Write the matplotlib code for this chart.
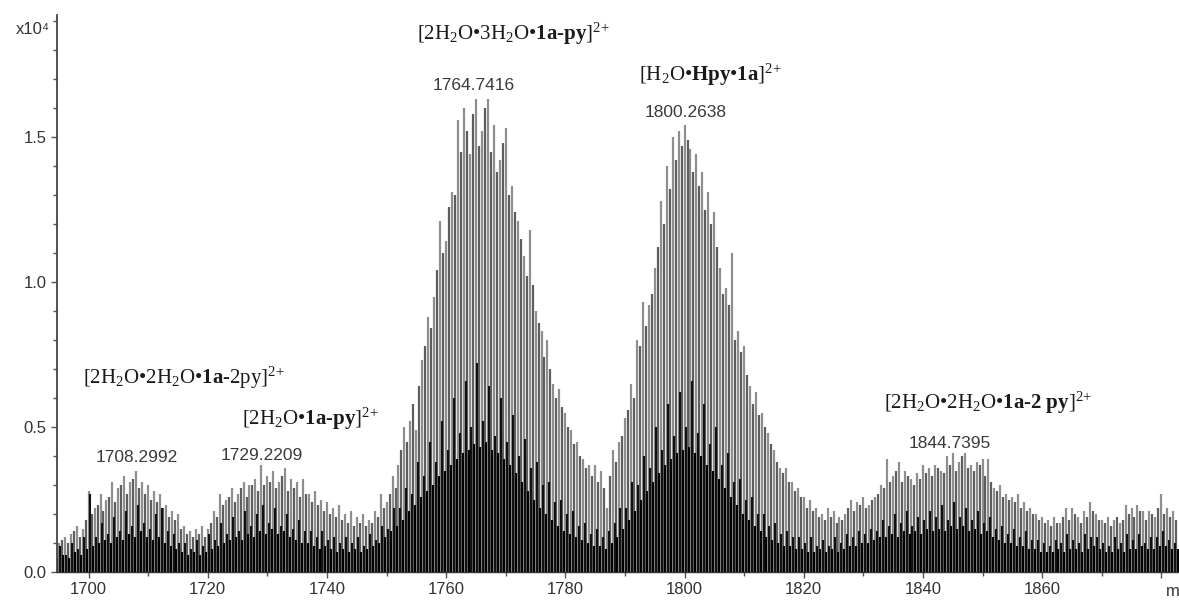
import numpy as np
import matplotlib
matplotlib.use("Agg")
from matplotlib import pyplot as plt
from matplotlib.ticker import MultipleLocator, FixedLocator

# intensities in units of 1e4 counts, one stick per m/z step
mz_first = 1694
mz_last = 1882

# tallest isotope sticks at integer m/z
main_heights = [
    .09, .10, .12, .13, .16, .15, .28, .22, .27, .25,
    .31, .29, .33, .31, .35, .31, .30, .28, .27, .23,
    .21, .20, .16, .14, .15, .16, .15, .21, .27, .25,
    .29, .27, .31, .30, .32, .37, .33, .35, .31, .36,
    .32, .31, .32, .27, .28, .25, .24, .22, .23, .20,
    .21, .19, .20, .18, .21, .27, .24, .33, .37, .50,
    .52, .49, .73, .88, .95, 1.21, 1.14, 1.31, 1.56, 1.60,
    1.44, 1.63, 1.52, 1.63, 1.54, 1.42, 1.53, 1.33, 1.21, 1.09,
    1.18, .90, .83, .80, .65, .63, .55, .49, .45, .39,
    .37, .37, .35, .22, .42, .45, .53, .65, .80, .93,
    .92, 1.05, 1.28, 1.40, 1.50, 1.52, 1.54, 1.46, 1.44, 1.38,
    1.31, 1.24, 1.05, .98, 1.10, .83, .78, .64, .62, .55,
    .48, .42, .36, .36, .31, .29, .26, .25, .22, .20,
    .22, .21, .19, .20, .25, .24, .26, .23, .26, .30,
    .39, .33, .38, .35, .32, .34, .37, .36, .37, .35,
    .40, .41, .38, .41, .37, .38, .39, .39, .29, .30,
    .27, .26, .27, .24, .22, .20, .19, .18, .19, .17,
    .22, .22, .19, .21, .24, .20, .18, .19, .18, .17,
    .23, .22, .23, .21, .21, .19, .27, .22, .21,
]

# isotope sticks at half-integer m/z
half_heights = [
    .09, .11, .10, .14, .12, .18, .20, .23, .21, .26,
    .24, .30, .27, .32, .29, .27, .25, .24, .22, .19,
    .18, .15, .13, .12, .13, .12, .17, .19, .23, .26,
    .24, .29, .26, .30, .28, .30, .31, .29, .33, .28,
    .29, .26, .27, .24, .23, .21, .20, .19, .18, .17,
    .16, .17, .16, .17, .19, .22, .27, .29, .42, .45,
    .58, .64, .78, .84, 1.04, 1.10, 1.26, 1.30, 1.45, 1.52,
    1.58, 1.47, 1.60, 1.45, 1.38, 1.48, 1.30, 1.24, 1.15, 1.02,
    .99, .86, .74, .70, .60, .57, .50, .44, .40, .36,
    .33, .31, .29, .33, .38, .47, .56, .60, .78, .85,
    .96, 1.12, 1.20, 1.32, 1.42, 1.47, 1.49, 1.38, 1.33, 1.25,
    1.20, 1.12, .96, .92, .80, .76, .68, .58, .54, .50,
    .44, .38, .34, .31, .28, .26, .22, .21, .19, .18,
    .19, .17, .18, .22, .21, .23, .22, .25, .27, .29,
    .31, .35, .31, .33, .30, .32, .34, .33, .36, .34,
    .37, .35, .40, .36, .35, .37, .33, .31, .28, .26,
    .25, .24, .22, .21, .20, .18, .17, .16, .17, .19,
    .18, .20, .17, .19, .21, .18, .17, .16, .19, .18,
    .20, .19, .21, .18, .20, .22, .20, .19, .18,
]

# dark overlapping sticks (m/z + 0.25)
core_heights = [
    .07, .09, .06, .10, .08, .12,
    .27, .12, .17, .13, .19, .14, .21, .16, .23, .17, .15, .20, .22, .14, .13, .10, .10, .08, .11, .09,
    .13, .11, .17, .13, .19, .14, .21, .16, .20, .23, .17, .22, .16, .20, .15, .18, .14, .14, .12, .14,
    .11, .12, .10, .12, .10, .12, .09, .13, .11, .16, .15, .22, .22, .29, .27, .38, .33, .45, .38, .52,
    .42, .60, .48, .66, .50, .72, .52, .64, .47, .60, .45, .54, .40, .46, .36, .38, .30, .31, .24, .25,
    .20, .21, .16, .17, .13, .15, .12, .14, .17, .22, .22, .31, .30, .40, .36, .50, .42, .58, .47, .62,
    .50, .66, .48, .58, .44, .50, .37, .41, .31, .32, .25, .26, .20, .20, .16, .17, .13, .14, .12, .12,
    .10, .12, .09, .11, .09, .12, .10, .13, .12, .14, .13, .15, .14, .18, .16, .20, .17, .21, .16, .19,
    .18, .21, .19, .23, .18, .24, .19, .22, .18, .21, .17, .19, .15, .16, .13, .15, .12, .14, .11, .11,
    .10, .09, .11, .10, .13, .11, .10, .13, .12, .12, .10, .09, .12, .10, .13, .11, .13, .10, .12, .12,
    .14, .11, .10,
]

# dark overlapping sticks (m/z + 0.75)
noise_heights = [
    .05, .06, .05, .07, .06, .08,
    .09, .10, .11, .10, .12, .11, .13, .12, .14, .12, .11, .12, .10, .09, .08, .07, .06, .07, .06, .07,
    .08, .09, .10, .11, .12, .11, .13, .12, .14, .13, .15, .13, .14, .12, .11, .10, .10, .09, .08, .09,
    .08, .07, .08, .07, .08, .07, .08, .09, .10, .12, .14, .16, .18, .21, .23, .26, .28, .30, .33, .35,
    .37, .39, .41, .42, .44, .43, .45, .42, .41, .39, .37, .34, .31, .28, .25, .22, .20, .18, .16, .14,
    .13, .12, .11, .10, .09, .09, .08, .10, .12, .15, .18, .21, .25, .28, .31, .34, .37, .39, .41, .42,
    .43, .41, .40, .37, .35, .32, .29, .26, .23, .20, .18, .16, .14, .12, .11, .10, .09, .09, .08, .08,
    .07, .07, .08, .07, .08, .07, .08, .09, .09, .10, .10, .11, .12, .12, .13, .12, .14, .13, .14, .13,
    .15, .14, .15, .14, .16, .15, .16, .14, .15, .13, .14, .12, .11, .10, .10, .09, .09, .08, .08, .07,
    .07, .07, .08, .07, .08, .08, .07, .08, .09, .08, .07, .07, .08, .07, .08, .08, .09, .08, .08, .09,
    .09, .08, .08,
]

# baseline noise level, every 4 m/z
baseline_heights = [
    .05, .05, .06, .06, .06, .05, .05, .06, .06, .06,
    .06, .05, .05, .05, .06, .08, .10, .12, .12, .11,
    .09, .07, .06, .05, .07, .09, .11, .11, .09, .07,
    .06, .05, .05, .05, .05, .06, .06, .06, .06, .06,
    .05, .05, .05, .05, .05, .05, .05, .05,
]

x_tick_values = [1700, 1720, 1740, 1760, 1780, 1800, 1820, 1840, 1860, 1880]
x_tick_labels = ["1700", "1720", "1740", "1760", "1780", "1800", "1820", "1840", "1860", ""]

peak_labels = ["1708.2992", "1729.2209", "1764.7416", "1800.2638", "1844.7395"]
ion_labels = [
    r"$\mathrm{[2H_2O}\mathrm{•}\mathrm{3H_2O}\mathrm{•}\mathbf{1a‐py}\mathrm{]^{2{+}}}$",
    r"$\mathrm{[H_2O}\mathrm{•}\mathbf{Hpy}\mathrm{•}\mathbf{1a}\mathrm{]^{2{+}}}$",
    r"$\mathrm{[2H_2O}\mathrm{•}\mathrm{2H_2O}\mathrm{•}\mathbf{1a}\mathrm{‐2py]^{2{+}}}$",
    r"$\mathrm{[2H_2O}\mathrm{•}\mathbf{1a‐py}\mathrm{]^{2{+}}}$",
    r"$\mathrm{[2H_2O}\mathrm{•}\mathrm{2H_2O}\mathrm{•}\mathbf{1a‐2\ py}\mathrm{]^{2{+}}}$",
]

plt.rcParams["mathtext.fontset"] = "custom"
plt.rcParams["mathtext.rm"] = "Liberation Serif"
plt.rcParams["mathtext.bf"] = "Liberation Serif:bold"
plt.rcParams["mathtext.it"] = "Liberation Serif:italic"

W, H = 1179, 601
fig = plt.figure(figsize=(W / 100, H / 100), dpi=100)
ax = fig.add_axes([57 / W, 29 / H, (W - 57) / W, 557 / H])

mz_int = np.arange(mz_first, mz_last + 1)
ax.vlines(mz_int, 0, main_heights, colors="#8e8e8e", lw=1.6)
ax.vlines(mz_int + 0.5, 0, half_heights, colors="#5e5e5e", lw=1.6)
ax.vlines(mz_int + 0.25, 0, core_heights, colors="#111111", lw=1.5)
ax.vlines(mz_int + 0.75, 0, noise_heights, colors="#000000", lw=1.5)
ax.fill_between(np.arange(mz_first, mz_last + 1, 4), 0, baseline_heights,
                step="mid", color="black", lw=0)

ax.set_xlim(1694.7, 1882.97)
ax.set_ylim(0, 1.921)

for s in ["top", "right"]:
    ax.spines[s].set_visible(False)
ax.spines["left"].set_color("#444444")
ax.spines["left"].set_linewidth(1.3)
ax.spines["bottom"].set_color("#333333")
ax.spines["bottom"].set_linewidth(1.0)

ax.xaxis.set_major_locator(FixedLocator(x_tick_values))
ax.set_xticklabels(x_tick_labels)
ax.xaxis.set_minor_locator(MultipleLocator(10))
ax.yaxis.set_major_locator(MultipleLocator(0.5))
ax.yaxis.set_minor_locator(MultipleLocator(0.1))
ax.yaxis.set_major_formatter(lambda v, p: f"{v:.1f}")
ax.tick_params(which="both", direction="out", colors="#555555", labelcolor="#333333",
               labelsize=12, width=1.0)
ax.tick_params(which="major", length=4)
ax.tick_params(which="minor", length=3)
for lab in ax.get_xticklabels() + ax.get_yticklabels():
    lab.set_fontfamily("Liberation Sans")

ax.text(-0.006, 0.966, "x10⁴", transform=ax.transAxes, ha="right", va="baseline",
        fontsize=12, color="#333333", family=["Liberation Sans", "DejaVu Sans"])
fig.text(1166 / W, 1 - 592 / H, "m", fontsize=12, color="#333333",
         family="Liberation Sans", ha="left", va="center")

# peak m/z labels (pixel centres)
peak_pos = [(137, 458), (262, 455), (474, 86), (686, 112), (950, 443)]
for txt, (px, py) in zip(peak_labels, peak_pos):
    fig.text(px / W, 1 - py / H, txt, ha="center", va="center", fontsize=12.5,
             color="#3a3a3a", family="Liberation Sans")

ion_pos = [(513, 34), (710, 75), (184, 378), (310, 419), (988, 403)]
for txt, (px, py) in zip(ion_labels, ion_pos):
    fig.text(px / W, 1 - py / H, txt, ha="center", va="center", fontsize=15,
             color="#1a1a1a")

fig.savefig("out.png", dpi=100)
